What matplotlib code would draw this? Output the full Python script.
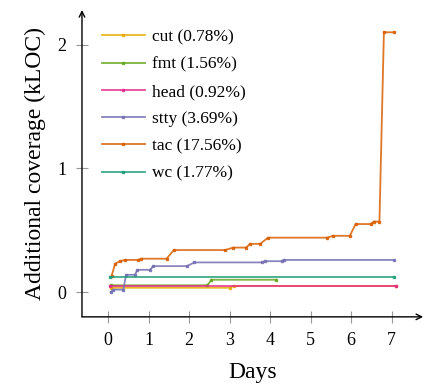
import matplotlib
matplotlib.use("Agg")
import matplotlib.pyplot as plt

# ── Coverage series (days since start, additional kLOC covered) ──────────────
cut_days = [0.07, 3.00, 3.10, 7.12]
cut_kloc = [0.035, 0.035, 0.05, 0.05]

fmt_days = [0.07, 2.45, 2.55, 4.15]
fmt_kloc = [0.055, 0.055, 0.10, 0.10]

head_days = [0.03, 7.12]
head_kloc = [0.05, 0.05]

stty_days = [0.06, 0.12, 0.37, 0.44, 0.66, 0.72, 1.03, 1.11, 1.94, 2.13,
             3.79, 3.87, 4.28, 4.34, 7.05]
stty_kloc = [0.00, 0.02, 0.02, 0.14, 0.14, 0.18, 0.18, 0.21, 0.21, 0.24,
             0.24, 0.25, 0.25, 0.26, 0.26]

tac_days = [0.08, 0.17, 0.29, 0.41, 0.74, 0.80, 1.44, 1.62, 2.89, 3.09,
            3.40, 3.51, 3.75, 3.95, 5.41, 5.55, 5.97, 6.11, 6.48, 6.56,
            6.70, 6.81, 7.05]
tac_kloc = [0.13, 0.23, 0.25, 0.26, 0.26, 0.27, 0.27, 0.34, 0.34, 0.36,
            0.36, 0.39, 0.39, 0.44, 0.44, 0.455, 0.455, 0.55, 0.55, 0.57,
            0.57, 2.10, 2.10]

wc_days = [0.03, 7.05]
wc_kloc = [0.125, 0.125]

labels = ["cut (0.78%)", "fmt (1.56%)", "head (0.92%)",
          "stty (3.69%)", "tac (17.56%)", "wc (1.77%)"]
colors = ["#e6ab02", "#66a61e", "#e7298a", "#7570b3", "#d95f02", "#1b9e77"]
series = [(cut_days, cut_kloc), (fmt_days, fmt_kloc), (head_days, head_kloc),
          (stty_days, stty_kloc), (tac_days, tac_kloc), (wc_days, wc_kloc)]

xticks = [0, 1, 2, 3, 4, 5, 6, 7]
yticks = [0, 1, 2]

plt.rcParams["font.family"] = ["Liberation Serif", "DejaVu Serif"]

fig = plt.figure(figsize=(4.27, 3.85), dpi=100)
ax = fig.add_axes([0.192, 0.177, 0.799, 0.797])

for (d, k), lab, col in zip(series, labels, colors):
    ax.plot(d, k, color=col, lw=1.3, alpha=0.85, marker="s", ms=1.8,
            mec=col, mfc=col, label=lab)

ax.set_xlim(-0.65, 7.78)
ax.set_ylim(-0.2, 2.28)
ax.set_xticks(xticks)
ax.set_yticks(yticks)
ax.tick_params(direction="inout", length=8, width=0.8, color="#999999",
               labelsize=13, pad=7)

for side in ["top", "right", "left", "bottom"]:
    ax.spines[side].set_visible(False)

# axis lines with arrow heads
arrow = dict(arrowstyle="->", lw=1.0, color="black", shrinkA=0, shrinkB=0,
             mutation_scale=10)
ax.annotate("", xy=(1, 0), xytext=(0, 0), xycoords="axes fraction",
            arrowprops=arrow)
ax.annotate("", xy=(0, 1), xytext=(0, 0), xycoords="axes fraction",
            arrowprops=arrow)

ax.set_xlabel("Days", fontsize=17, labelpad=9)
ax.set_ylabel("Additional coverage (kLOC)", fontsize=17, labelpad=8)

ax.legend(loc="upper left", bbox_to_anchor=(0.058, 0.937), frameon=False,
          fontsize=12.5, handlelength=2.47, handletextpad=0.44,
          labelspacing=0.64, borderaxespad=0, borderpad=0)

fig.savefig("out.png", dpi=100)
